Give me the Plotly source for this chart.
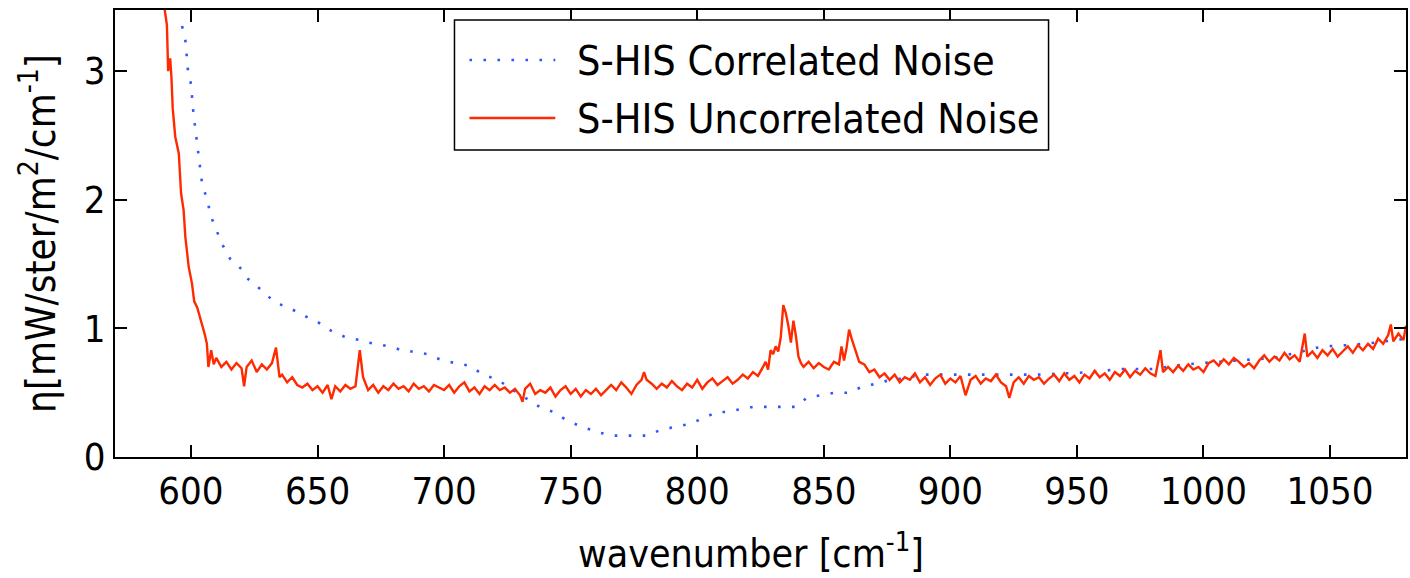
import plotly.graph_objects as go

# Correlated noise estimate (smooth curve)
wn_corr = [596.5, 597.8, 598.8, 600.0, 601.0, 602.2, 603.3, 604.5, 606.5, 607.7,
           610.0, 612.2, 615.5, 620.0, 622.2, 627.7, 633.3, 638.8, 644.5, 650.0,
           655.5, 661.2, 666.7, 670.0, 675.6, 681.1, 684.4, 687.8, 693.3, 699.0,
           704.4, 710.0, 715.5, 721.2, 726.5, 732.1, 737.7, 743.2, 748.9, 754.4,
           757.8, 761.2, 766.6, 770.0, 775.5, 780.0, 785.5, 791.2, 796.7, 802.3,
           807.8, 811.1, 816.7, 822.2, 827.9, 833.1, 838.8, 843.3, 848.7, 854.4,
           859.9, 865.6, 871.1, 874.5, 883.3, 889.9, 901.0, 906.7, 917.7, 934.5,
           945.0, 956.4, 966.7, 970.0, 981.1, 988.0, 998.9, 1013.3, 1027.7, 1038.9,
           1042.1, 1047.6, 1058.0, 1068.0, 1080.0]
eta_corr = [3.35, 3.24, 3.01, 2.90, 2.67, 2.45, 2.30, 2.11, 2.00, 1.88,
            1.77, 1.66, 1.54, 1.46, 1.39, 1.30, 1.20, 1.16, 1.10, 1.05,
            0.98, 0.93, 0.91, 0.89, 0.87, 0.845, 0.82, 0.82, 0.80, 0.754,
            0.73, 0.71, 0.64, 0.60, 0.53, 0.46, 0.39, 0.35, 0.28, 0.235,
            0.21, 0.19, 0.166, 0.166, 0.166, 0.166, 0.21, 0.235, 0.256, 0.30,
            0.35, 0.35, 0.37, 0.39, 0.39, 0.39, 0.39, 0.46, 0.48, 0.50,
            0.50, 0.55, 0.57, 0.59, 0.62, 0.64, 0.64, 0.64, 0.64, 0.64,
            0.65, 0.66, 0.684, 0.684, 0.684, 0.71, 0.73, 0.75, 0.77, 0.82,
            0.84, 0.86, 0.87, 0.89, 0.92]

# Uncorrelated noise estimate (measured spectrum)
wn_unc = [588.0, 589.5, 590.5, 591.0, 591.8, 592.3, 592.8, 593.8, 594.5, 595.2,
          596.1, 597.1, 597.8, 599.1, 600.4, 601.3, 602.5, 603.4, 604.7, 605.5,
          606.3, 606.9, 608.0, 609.0, 610.0, 612, 614, 616, 618, 620,
          621, 622, 624, 626, 628, 630, 632, 633.6, 635, 636,
          638, 640, 642, 644, 646, 648, 650, 652, 654, 655.5,
          657, 659, 661, 663, 665, 666.7, 668, 670, 672, 674,
          676, 678, 680, 682, 684, 686, 688, 690, 692, 694,
          696, 698, 700, 702, 704, 706, 708, 710, 712, 714,
          716, 718, 720, 722, 724, 726, 728, 730, 731, 732,
          734, 736, 738, 740, 742, 744, 746, 748, 750, 752,
          754, 756, 758, 760, 762, 764, 766, 768, 770, 772,
          774, 776, 778, 779, 780, 782, 784, 786, 788, 790,
          792, 794, 796, 798, 800, 802, 804, 806, 808, 810,
          812, 814, 816, 818, 820, 822, 824, 826, 827, 828,
          829, 830, 831, 832, 833, 834, 835, 836, 837, 838,
          839, 840, 841, 842, 844, 846, 848, 850, 852, 854,
          856, 857, 858, 859, 860, 861, 862, 863, 864, 866,
          868, 870, 872, 874, 876, 878, 880, 882, 884, 886,
          888, 890, 892, 894, 896, 898, 900, 902, 904, 906,
          908, 910, 912, 914, 916, 918, 920, 922, 923.3, 925,
          927, 929, 931, 933, 935, 937, 939, 941, 943, 945,
          947, 949, 951, 953, 955, 957, 959, 961, 963, 965,
          967, 969, 971, 973, 975, 977, 979, 981, 983, 984,
          986, 988, 990, 992, 994, 996, 998, 1000, 1002, 1004,
          1006, 1008, 1010, 1012, 1014, 1016, 1018, 1020, 1022, 1024,
          1026, 1028, 1030, 1032, 1034, 1036, 1038, 1040, 1041, 1043,
          1045, 1047, 1049, 1051, 1053, 1055, 1057, 1059, 1061, 1063,
          1065, 1067, 1069, 1071, 1073, 1074, 1075, 1077, 1079, 1080]
eta_unc = [3.70, 3.50, 3.36, 3.00, 3.10, 2.95, 2.71, 2.49, 2.42, 2.36,
           2.05, 1.92, 1.71, 1.48, 1.35, 1.21, 1.16, 1.10, 1.00, 0.95,
           0.88, 0.70, 0.83, 0.72, 0.77, 0.70, 0.74, 0.68, 0.73, 0.69,
           0.55, 0.70, 0.75, 0.66, 0.72, 0.68, 0.73, 0.85, 0.62, 0.64,
           0.58, 0.62, 0.56, 0.54, 0.57, 0.52, 0.55, 0.50, 0.56, 0.45,
           0.55, 0.51, 0.56, 0.53, 0.55, 0.83, 0.62, 0.52, 0.56, 0.50,
           0.55, 0.52, 0.57, 0.53, 0.55, 0.51, 0.57, 0.53, 0.55, 0.51,
           0.56, 0.54, 0.52, 0.56, 0.50, 0.55, 0.58, 0.51, 0.54, 0.49,
           0.55, 0.52, 0.56, 0.52, 0.54, 0.50, 0.53, 0.48, 0.43, 0.53,
           0.57, 0.49, 0.52, 0.50, 0.54, 0.47, 0.52, 0.55, 0.49, 0.53,
           0.47, 0.52, 0.49, 0.53, 0.48, 0.52, 0.56, 0.52, 0.58, 0.54,
           0.49, 0.56, 0.60, 0.66, 0.60, 0.57, 0.53, 0.57, 0.54, 0.59,
           0.55, 0.52, 0.57, 0.54, 0.60, 0.53, 0.58, 0.61, 0.56, 0.59,
           0.62, 0.57, 0.60, 0.64, 0.61, 0.66, 0.63, 0.70, 0.74, 0.68,
           0.83, 0.80, 0.86, 0.82, 0.93, 1.18, 1.12, 1.02, 0.89, 1.06,
           0.94, 0.78, 0.73, 0.70, 0.74, 0.69, 0.73, 0.70, 0.68, 0.74,
           0.72, 0.86, 0.75, 0.85, 0.99, 0.92, 0.86, 0.80, 0.74, 0.72,
           0.66, 0.68, 0.62, 0.65, 0.60, 0.64, 0.58, 0.62, 0.60, 0.65,
           0.58, 0.62, 0.56, 0.61, 0.64, 0.57, 0.61, 0.58, 0.63, 0.48,
           0.60, 0.63, 0.57, 0.61, 0.59, 0.64, 0.58, 0.55, 0.46, 0.58,
           0.62, 0.57, 0.63, 0.60, 0.62, 0.57, 0.61, 0.64, 0.59, 0.65,
           0.60, 0.63, 0.58, 0.64, 0.61, 0.67, 0.62, 0.65, 0.60, 0.66,
           0.63, 0.68, 0.62, 0.67, 0.64, 0.69, 0.65, 0.63, 0.83, 0.66,
           0.70, 0.66, 0.71, 0.67, 0.72, 0.68, 0.70, 0.66, 0.73, 0.75,
           0.71, 0.76, 0.72, 0.77, 0.74, 0.70, 0.73, 0.69, 0.75, 0.79,
           0.74, 0.78, 0.75, 0.81, 0.76, 0.79, 0.74, 0.96, 0.78, 0.82,
           0.77, 0.83, 0.79, 0.84, 0.78, 0.82, 0.86, 0.81, 0.87, 0.83,
           0.88, 0.84, 0.92, 0.88, 0.95, 1.03, 0.90, 0.96, 0.91, 1.02]

x_ticks = [600, 650, 700, 750, 800, 850, 900, 950, 1000, 1050]
y_ticks = [0, 1, 2, 3]
x_range = [570, 1080]
y_range = [0, 3.475]

name_corr = "S-HIS Correlated Noise"
name_unc = "S-HIS Uncorrelated Noise"
x_title = "wavenumber [cm<sup>-1</sup>]"
y_title = "η[mW/ster/m<sup>2</sup>/cm<sup>-1</sup>]"

blue = "#2f55ff"
red = "#ff2a00"
font_family = "Liberation Sans Narrow, DejaVu Sans Condensed, Liberation Sans, sans-serif"

W, H = 1410, 578
ML, MR, MT, MB = 115, 2, 10, 121


def px_x(p):
    return (p - ML) / (W - ML - MR)


def px_y(p):
    return 1 - (p - MT) / (H - MT - MB)


fig = go.Figure()
fig.add_trace(go.Scatter(x=wn_corr, y=eta_corr, mode="lines", name=name_corr,
                         line=dict(color=blue, width=2.6, dash="2.6px,11.4px"),
                         showlegend=False))
fig.add_trace(go.Scatter(x=wn_unc, y=eta_unc, mode="lines", name=name_unc,
                         line=dict(color=red, width=2.4),
                         showlegend=False))

# legend box drawn by hand so the sample lines can be long
shapes = [
    dict(type="rect", xref="paper", yref="paper",
         x0=px_x(455), x1=px_x(1050), y0=px_y(150), y1=px_y(20),
         line=dict(color="black", width=1.5), fillcolor="white", layer="above"),
    dict(type="line", xref="paper", yref="paper",
         x0=px_x(470), x1=px_x(556), y0=px_y(60), y1=px_y(60),
         line=dict(color=blue, width=2.6, dash="2.6px,11.4px"), layer="above"),
    dict(type="line", xref="paper", yref="paper",
         x0=px_x(470), x1=px_x(556), y0=px_y(118), y1=px_y(118),
         line=dict(color=red, width=2.5), layer="above"),
]
annotations = [
    dict(text=name_corr, xref="paper", yref="paper", x=px_x(576), y=px_y(61),
         xanchor="left", yanchor="middle", showarrow=False,
         font=dict(size=41, color="black", family=font_family)),
    dict(text=name_unc, xref="paper", yref="paper", x=px_x(576), y=px_y(119),
         xanchor="left", yanchor="middle", showarrow=False,
         font=dict(size=41, color="black", family=font_family)),
    # x-axis title
    dict(text=x_title, xref="paper", yref="paper", x=px_x(752), y=px_y(551),
         xanchor="center", yanchor="middle", showarrow=False,
         font=dict(size=39, color="black", family=font_family)),
]

axis_common = dict(showline=True, linecolor="black", linewidth=1.6, mirror="ticks",
                   ticks="inside", ticklen=12, tickwidth=1.6, tickcolor="black",
                   showgrid=False, zeroline=False,
                   tickfont=dict(size=38, color="black", family=font_family))

fig.update_layout(
    width=W, height=H,
    margin=dict(l=ML, r=MR, t=MT, b=MB),
    paper_bgcolor="white", plot_bgcolor="white",
    shapes=shapes, annotations=annotations,
    xaxis=dict(range=x_range, tickvals=x_ticks, **axis_common),
    yaxis=dict(range=y_range, tickvals=y_ticks, title=dict(
        text=y_title, standoff=16,
        font=dict(size=40, color="black", family=font_family)), **axis_common),
)

fig.write_html("out.html")
